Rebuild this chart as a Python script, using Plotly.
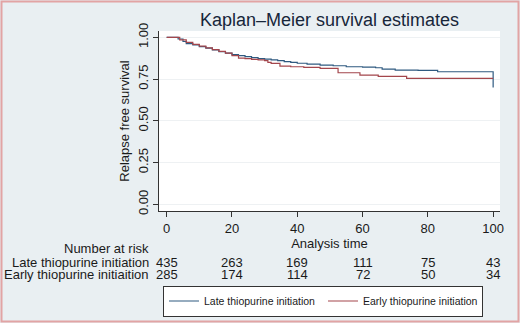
import plotly.graph_objects as go

# ---- data ----
late_time = [0, 3.5, 5, 6, 8, 10, 12, 14, 16, 18, 20, 22, 24, 26, 28, 30, 32, 34, 36, 38, 40,
             43, 47, 51, 55, 60, 64, 66, 70, 77, 83, 100]
late_surv = [1.0, 0.99, 0.975, 0.962, 0.955, 0.945, 0.935, 0.925, 0.915, 0.905, 0.897, 0.89,
             0.884, 0.878, 0.873, 0.869, 0.865, 0.86, 0.855, 0.85, 0.845, 0.84, 0.834, 0.83,
             0.824, 0.822, 0.818, 0.81, 0.804, 0.802, 0.794, 0.70]
early_time = [0, 4, 6, 8, 10, 12, 14, 16, 18, 20, 22, 24, 26, 28, 30, 31, 32, 34.7, 38, 42, 47,
              52.5, 59.2, 64.8, 73.5, 100]
early_surv = [1.0, 0.985, 0.97, 0.958, 0.948, 0.937, 0.926, 0.916, 0.905, 0.89, 0.876, 0.872,
              0.868, 0.865, 0.86, 0.85, 0.844, 0.828, 0.824, 0.82, 0.814, 0.788, 0.774, 0.766,
              0.754, 0.754]
risk_times = [0, 20, 40, 60, 80, 100]
risk_late = [435, 263, 169, 111, 75, 43]
risk_early = [285, 174, 114, 72, 50, 34]
group_names = ["Late thiopurine initiation", "Early thiopurine initiation"]
risk_row_labels = ["Late thiopurine initiation", "Early thiopurine initiaition"]
x_ticks = [0, 20, 40, 60, 80, 100]
y_ticks = [0, 0.25, 0.5, 0.75, 1.0]
y_tick_labels = ["0.00", "0.25", "0.50", "0.75", "1.00"]

BLUE = "#2f5a80"
RED = "#a3464c"
BG = "#e9eff2"
FONT = "Liberation Sans"
TXT = "#1a1a1a"

fig = go.Figure()
fig.add_trace(go.Scatter(x=late_time, y=late_surv, mode="lines", line_shape="hv",
                         line=dict(color=BLUE, width=1.2), name=group_names[0]))
fig.add_trace(go.Scatter(x=early_time, y=early_surv, mode="lines", line_shape="hv",
                         line=dict(color=RED, width=1.2), name=group_names[1]))

# plot area pixel geometry
L, R, T, B = 159, 20, 31, 112
W, H = 520, 323
pw, ph = W - L - R, H - T - B


def py(ypix):
    return (H - B - ypix) / ph


def px(xpix):
    return (xpix - L) / pw


ann = []
ann.append(dict(text="Number at risk", xref="paper", yref="paper", x=px(151), y=py(249),
                xanchor="right", yanchor="middle", showarrow=False,
                font=dict(size=13, color=TXT, family=FONT)))
for row, (lab, vals) in enumerate(zip(risk_row_labels, [risk_late, risk_early])):
    yy = py(262 + row * 12.5)
    ann.append(dict(text=lab, xref="paper", yref="paper", x=px(151), y=yy,
                    xanchor="right", yanchor="middle", showarrow=False,
                    font=dict(size=13, color=TXT, family=FONT)))
    for t, v in zip(risk_times, vals):
        ann.append(dict(text=str(v), xref="x", yref="paper", x=t, y=yy,
                        xanchor="center", yanchor="middle", showarrow=False,
                        font=dict(size=13, color=TXT, family=FONT)))

fig.update_layout(
    width=W, height=H,
    margin=dict(l=L, r=R, t=T, b=B, autoexpand=False),
    paper_bgcolor=BG, plot_bgcolor="white",
    title=dict(text="Kaplan–Meier survival estimates", xref="container", x=329.5 / W,
               xanchor="center", yref="container", y=1 - 20 / H, yanchor="middle",
               font=dict(size=18, color="#17263a", family=FONT)),
    font=dict(family=FONT, color=TXT),
    showlegend=True,
    legend=dict(orientation="h", xref="container", yref="container",
                x=163 / W, xanchor="left", y=1 - 301 / H, yanchor="middle",
                bgcolor="white", bordercolor="#333333", borderwidth=1,
                font=dict(size=10.5, color=TXT, family=FONT),
                entrywidth=114, tracegroupgap=0, itemwidth=30),
    annotations=ann,
    shapes=[dict(type="rect", xref="paper", yref="paper", x0=px(1.5), x1=px(518.5),
                 y0=py(321.5), y1=py(1.5), line=dict(color="#e2a4a4", width=2),
                 layer="below")],
)
fig.update_xaxes(range=[-2.35, 102.1], tickvals=x_ticks, ticks="outside", ticklen=5,
                 tickcolor="#333", showline=True, linecolor="#333", linewidth=1,
                 showgrid=False, zeroline=False, automargin=False,
                 tickfont=dict(size=13, color=TXT, family=FONT),
                 title=dict(text="Analysis time", standoff=1,
                            font=dict(size=13, color=TXT, family=FONT)))
fig.update_yaxes(range=[-0.04, 1.038], tickvals=y_ticks, ticktext=y_tick_labels,
                 tickangle=-90, ticks="outside", ticklen=5, tickcolor="#333",
                 showline=True, linecolor="#333", linewidth=1, automargin=False,
                 showgrid=True, gridcolor="#eef1f3", gridwidth=1, zeroline=False,
                 tickfont=dict(size=13, color=TXT, family=FONT),
                 title=dict(text="Relapse free survival", standoff=3,
                            font=dict(size=13, color=TXT, family=FONT)))

fig.write_html("out.html", config={"displayModeBar": False},
               post_script="document.body.style.margin='0';document.body.style.padding='0';")
